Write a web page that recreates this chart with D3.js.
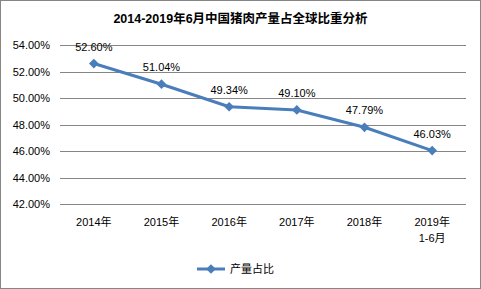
<!DOCTYPE html>
<html>
<head>
<meta charset="utf-8">
<script src="https://cdn.jsdelivr.net/npm/d3@7"></script>
<style>
  body { margin: 0; background: #fff; }
  svg { display: block; font-family: "Liberation Sans", "Noto Sans CJK SC", sans-serif; }
</style>
</head>
<body>
<svg id="chart" width="481" height="289"></svg>
<script>
// 数据
const categories = ["2014年", "2015年", "2016年", "2017年", "2018年", "2019年\n1-6月"];
const shares = [52.60, 51.04, 49.34, 49.10, 47.79, 46.03];
const yTicks = [42, 44, 46, 48, 50, 52, 54];
const seriesName = "产量占比";
const title = "2014-2019年6月中国猪肉产量占全球比重分析";

const W = 481, H = 289;
const m = { left: 60, right: 15, top: 45, bottom: 85 };
const color = "#4a7ebb";

const svg = d3.select("#chart");

// 外框
svg.append("rect")
  .attr("x", 0.5).attr("y", 0.5)
  .attr("width", W - 1).attr("height", H - 1)
  .attr("fill", "#fff").attr("stroke", "#868686");

svg.append("text")
  .attr("x", W / 2).attr("y", 23)
  .attr("text-anchor", "middle")
  .style("font-size", "12.5px").style("font-weight", "bold")
  .text(title);

const x = d3.scaleBand().domain(categories).range([m.left, W - m.right]);
const y = d3.scaleLinear().domain([42, 54]).range([H - m.bottom, m.top]);

// 网格线
svg.append("g")
  .selectAll("line")
  .data(yTicks)
  .join("line")
  .attr("x1", m.left).attr("x2", W - m.right)
  .attr("y1", d => Math.round(y(d)) + 0.5).attr("y2", d => Math.round(y(d)) + 0.5)
  .attr("stroke", "#868686");

// y轴标签
const yAxis = d3.axisLeft(y).tickValues(yTicks).tickSize(0).tickPadding(10)
  .tickFormat(d => d.toFixed(2) + "%");
svg.append("g")
  .attr("transform", `translate(${m.left},0)`)
  .call(yAxis)
  .call(g => g.select(".domain").remove())
  .call(g => g.selectAll("text").style("font-size", "11px").attr("fill", "#000")
    .attr("font-family", null));

// x轴标签 (多行)
const xg = svg.append("g")
  .selectAll("text")
  .data(categories)
  .join("text")
  .attr("x", d => x(d) + x.bandwidth() / 2)
  .attr("y", H - m.bottom + 22)
  .attr("text-anchor", "middle")
  .style("font-size", "11px");
xg.selectAll("tspan")
  .data(d => d.split("\n"))
  .join("tspan")
  .attr("x", function () { return this.parentNode.getAttribute("x"); })
  .attr("dy", (d, i) => i === 0 ? 0 : 16)
  .text(d => d);

const pts = categories.map((c, i) => ({ c, v: shares[i] }));
const line = d3.line().x(d => x(d.c) + x.bandwidth() / 2).y(d => y(d.v));

svg.append("path")
  .datum(pts)
  .attr("d", line)
  .attr("fill", "none")
  .attr("stroke", color)
  .attr("stroke-width", 3)
  .attr("stroke-linejoin", "round");

const diamond = d3.symbol().type(d3.symbolDiamond2).size(60);
svg.append("g")
  .selectAll("path")
  .data(pts)
  .join("path")
  .attr("d", diamond)
  .attr("transform", d => `translate(${x(d.c) + x.bandwidth() / 2},${y(d.v)})`)
  .attr("fill", color);

svg.append("g")
  .selectAll("text")
  .data(pts)
  .join("text")
  .attr("x", d => x(d.c) + x.bandwidth() / 2)
  .attr("y", d => y(d.v) - 13)
  .attr("text-anchor", "middle")
  .style("font-size", "11px")
  .text(d => d.v.toFixed(2) + "%");

// 图例
const lg = svg.append("g").attr("transform", "translate(197,269)");
lg.append("line").attr("x1", 0).attr("x2", 28).attr("stroke", color).attr("stroke-width", 3);
lg.append("path").attr("d", diamond).attr("transform", "translate(14,0)").attr("fill", color);
lg.append("text").attr("x", 33).attr("y", 4).style("font-size", "11px").text(seriesName);
</script>
</body>
</html>
